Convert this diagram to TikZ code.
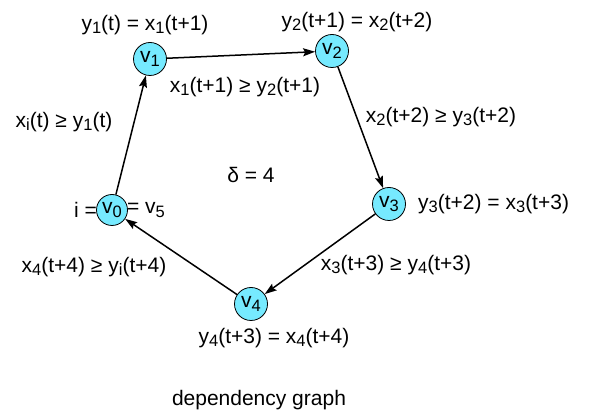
\documentclass[tikz,border=0pt]{standalone}
\usepackage{fontspec}
\setmainfont{Liberation Sans}
\usepackage{xcolor}
\usetikzlibrary{arrows.meta}
\definecolor{vcyan}{RGB}{118, 234, 255}
\newcommand{\sbs}[1]{\raisebox{-0.3ex}{\fontsize{16.5}{16.5}\selectfont #1}}
\tikzstyle{vertex} = [
    circle,
    minimum size=33pt,
    inner sep=0pt,
    draw=black,
    line width=0.8pt,
    fill=vcyan
]
\tikzstyle{lbl} = [
    inner sep=1pt
]
\tikzstyle{arrow} = [
    line width=1.5pt,
    -{Stealth[length=12pt, width=8pt, inset=2pt]}
]

\begin{document}
\begin{tikzpicture}[x=1pt, y=1pt, font=\fontsize{21}{24}\selectfont]
        \useasboundingbox (0, 0) rectangle (597, 412);
        % Vertices
        \node[vertex] (v1) at (150, 353) {v\sbs{1}};
        \node[vertex] (v2) at (332, 361) {v\sbs{2}};
        \node[vertex] (v3) at (389, 208) {v\sbs{3}};
        \node[vertex] (v4) at (251, 108) {v\sbs{4}};
        \node[vertex, minimum size=31pt] (v0) at (112, 202) {v\sbs{0}};
        \node[lbl, anchor=east] (iname) at ([xshift=2pt]v0.west) {i =};
        \node[lbl, anchor=west] (vfive) at ([xshift=-2pt]v0.east) {= v\sbs{5}};

        % Vertex labels
        \node[lbl] (y1) at (145, 387) {y\sbs{1}(t) = x\sbs{1}(t+1)};
        \node[lbl] (y2) at (357, 390) {y\sbs{2}(t+1) = x\sbs{2}(t+2)};
        \node[lbl, anchor=west] (y3) at (417, 208) {y\sbs{3}(t+2) = x\sbs{3}(t+3)};
        \node[lbl] (y4) at (274, 74) {y\sbs{4}(t+3) = x\sbs{4}(t+4)};
        \node[lbl] (delta) at (251, 237) {δ = 4};

        % Edges
        \draw[arrow] (v1) -- (v2);
        \draw[arrow] (v2) -- (v3);
        \draw[arrow] (v3) -- (v4);
        \draw[arrow] (v4) -- (v0);
        \draw[arrow] (v0) -- (v1);

        % Edge labels
        \node[lbl] (c12) at (245, 325) {x\sbs{1}(t+1) ≥ y\sbs{2}(t+1)};
        \node[lbl] (c23) at (441, 295) {x\sbs{2}(t+2) ≥ y\sbs{3}(t+2)};
        \node[lbl] (c34) at (396, 147) {x\sbs{3}(t+3) ≥ y\sbs{4}(t+3)};
        \node[lbl] (c40) at (94, 145) {x\sbs{4}(t+4) ≥ y\sbs{i}(t+4)};
        \node[lbl] (c01) at (64, 290) {x\sbs{i}(t) ≥ y\sbs{1}(t)};

        \node[lbl] (caption) at (259, 12) {dependency graph};
    \end{tikzpicture}
\end{document}
